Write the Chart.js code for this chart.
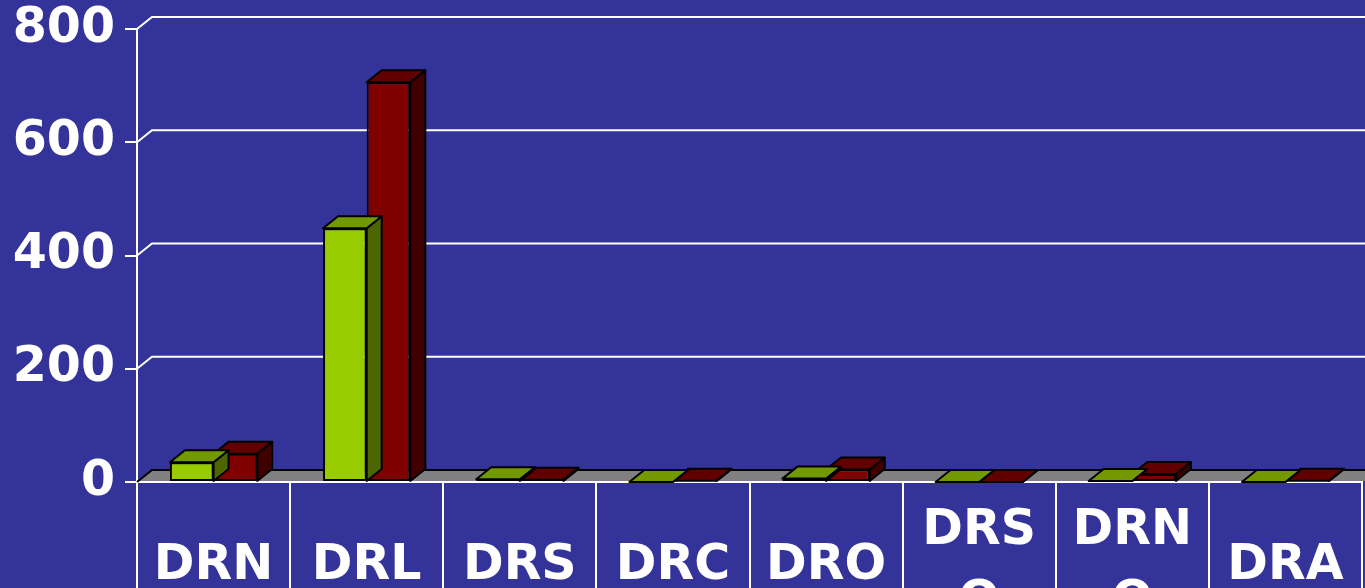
<!DOCTYPE html>
<html>
<head>
<meta charset="utf-8">
<script src="https://cdn.jsdelivr.net/npm/chart.js@4/dist/chart.umd.min.js"></script>
<style>
  html, body { margin: 0; padding: 0; background: #333399; overflow: hidden; }
  #wrap { width: 1365px; height: 588px; position: relative; }
</style>
</head>
<body>
<div id="wrap"><canvas id="chart"></canvas></div>
<script>
// categories + two series
const categories = ['DRN', 'DRL', 'DRS', 'DRC', 'DRO', ['DRS', 'O'], ['DRN', 'O'], 'DRA'];
const seriesGreen = [35, 448, 5, 0, 6, 0, 1, 0];
const seriesRed = [50, 706, 4, 2, 22, 0, 14, 2];
const yTicks = [0, 200, 400, 600, 800];

// depth of the fake 3D box (px)
const DX = 15, DY = 12;
const FONT = "'DejaVu Sans', 'Liberation Sans', Arial, sans-serif";

const faces = [
  { top: '#739900', side: '#4d6600' },   // green
  { top: '#600000', side: '#400000' },   // red
];

// floor + back-wall grid lines, drawn under the bars
const wallPlugin = {
  id: 'wall',
  beforeDatasetsDraw(chart) {
    const { ctx, chartArea: a, scales: { y } } = chart;
    const W = chart.width + 20;
    const base = y.getPixelForValue(0);
    ctx.save();
    ctx.fillStyle = '#808080';
    ctx.beginPath();
    ctx.moveTo(a.left, base - 1);
    ctx.lineTo(a.left + DX, base - DY);
    ctx.lineTo(W, base - DY);
    ctx.lineTo(W, base - 1);
    ctx.closePath();
    ctx.fill();
    ctx.strokeStyle = '#000';
    ctx.lineWidth = 2;
    ctx.beginPath();
    ctx.moveTo(a.left, base);
    ctx.lineTo(a.left + DX, base - DY);
    ctx.lineTo(W, base - DY);
    ctx.stroke();

    ctx.strokeStyle = '#fff';
    y.ticks.forEach((t) => {
      if (t.value <= 0) return;
      const py = y.getPixelForValue(t.value);
      ctx.beginPath();
      ctx.moveTo(a.left, py);
      ctx.lineTo(a.left + DX, py - DY);
      ctx.lineTo(W, py - DY);
      ctx.stroke();
    });
    ctx.restore();
  },
};

// top + side faces for each bar, right after its own dataset is drawn
const boxPlugin = {
  id: 'box3d',
  afterDatasetDraw(chart, args) {
    const { ctx } = chart;
    const f = faces[args.index];
    ctx.save();
    ctx.lineWidth = 2;
    ctx.lineJoin = 'round';
    ctx.strokeStyle = '#000';
    args.meta.data.forEach((bar) => {
      const { x, y, base, width } = bar.getProps(['x', 'y', 'base', 'width'], true);
      const l = x - width / 2, r = x + width / 2, top = Math.min(y, base);
      // side
      ctx.fillStyle = f.side;
      ctx.beginPath();
      ctx.moveTo(r, top);
      ctx.lineTo(r + DX, top - DY);
      ctx.lineTo(r + DX, base - DY);
      ctx.lineTo(r, base);
      ctx.closePath();
      ctx.fill(); ctx.stroke();
      // top
      ctx.fillStyle = f.top;
      ctx.beginPath();
      ctx.moveTo(l, top);
      ctx.lineTo(r, top);
      ctx.lineTo(r + DX, top - DY);
      ctx.lineTo(l + DX, top - DY);
      ctx.closePath();
      ctx.fill(); ctx.stroke();
    });
    ctx.restore();
  },
};

new Chart(document.getElementById('chart'), {
  type: 'bar',
  data: {
    labels: categories,
    datasets: [
      { data: seriesGreen, backgroundColor: '#99cc00', borderColor: '#000', borderWidth: 2, borderSkipped: false },
      { data: seriesRed, backgroundColor: '#800000', borderColor: '#000', borderWidth: 2, borderSkipped: false },
    ],
  },
  options: {
    responsive: true, maintainAspectRatio: false, animation: false,
    layout: { padding: { top: 29, right: 3, left: 0, bottom: 0 } },
    datasets: { bar: { categoryPercentage: 0.57, barPercentage: 1 } },
    plugins: { legend: { display: false }, tooltip: { enabled: false } },
    scales: {
      x: {
        afterFit: (s) => { s.height = 106; },
        grid: { display: true, drawOnChartArea: false, drawTicks: true, tickLength: 130, offset: true, color: '#fff', lineWidth: 2 },
        border: { display: true, color: '#fff', width: 2 },
        ticks: {
          color: '#fff', autoSkip: false, maxRotation: 0, minRotation: 0,
          crossAlign: 'center', padding: -81,
          font: { family: FONT, size: 49, weight: 'bold', lineHeight: 1.45 },
        },
      },
      y: {
        min: 0, max: 800,
        afterFit: (s) => { s.width = 137; s.paddingTop = 0; s.paddingBottom = 0; },
        afterBuildTicks: (s) => { s.ticks = yTicks.map((v) => ({ value: v })); },
        grid: { display: true, drawOnChartArea: false, drawTicks: true, tickLength: 12, color: '#fff', lineWidth: 2 },
        border: { display: true, color: '#fff', width: 2 },
        ticks: {
          color: '#fff', padding: 10,
          font: { family: FONT, size: 49, weight: 'bold', lineHeight: 0.78 },
        },
      },
    },
  },
  plugins: [wallPlugin, boxPlugin],
});
</script>
</body>
</html>
